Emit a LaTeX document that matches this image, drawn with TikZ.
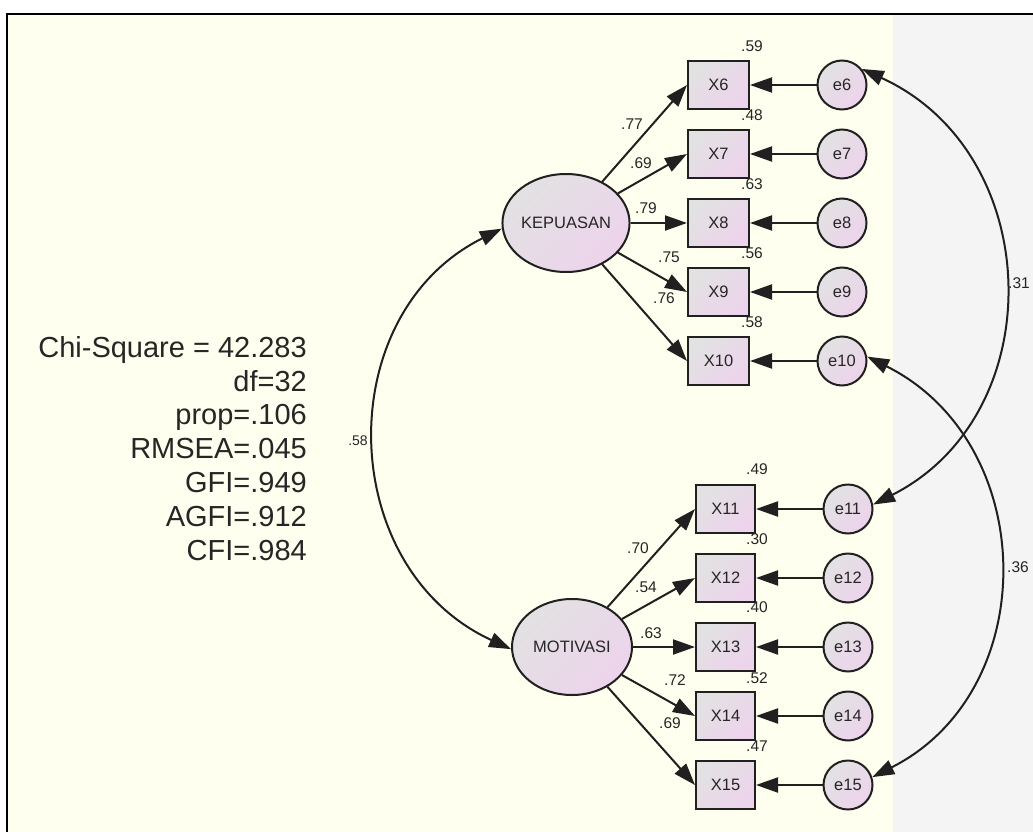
\documentclass[tikz,border=0pt]{standalone}
\usepackage{fontspec}
\setmainfont{Liberation Sans}
\usetikzlibrary{arrows.meta,shapes.geometric,calc}
\definecolor{bgyellow}{HTML}{FFFFF0}
\definecolor{bggrey}{HTML}{F4F4F4}
\definecolor{shadegrey}{HTML}{E2E2E2}
\definecolor{shadepink}{HTML}{EDD3EC}
\definecolor{edgecol}{HTML}{202020}
\newcommand{\pxfont}[1]{\fontsize{#1}{#1}\selectfont}
\begin{document}
\begin{tikzpicture}[x=1pt,y=-1pt,
  obsbox/.style={rectangle, draw=edgecol, line width=2pt, top color=shadegrey, bottom color=shadepink, shading angle=45, minimum width=60pt, minimum height=48pt, inner sep=0pt, font=\pxfont{16.5}, text=black!85},
  errc/.style={circle, draw=edgecol, line width=2pt, top color=shadegrey, bottom color=shadepink, shading angle=45, minimum size=49pt, inner sep=0pt, font=\pxfont{16.5}, text=black!85},
  latent/.style={ellipse, draw=edgecol, line width=2pt, top color=shadegrey, bottom color=shadepink, shading angle=45, minimum width=122pt, minimum height=98pt, inner sep=0pt, font=\pxfont{16.5}, text=black!85},
  lab/.style={font=\pxfont{15.5}, inner sep=0pt, text=black!85},
  regarrow/.style={draw=edgecol, line width=2pt, -{Triangle[length=22pt,width=15pt]}},
  cov/.style={draw=edgecol, line width=2pt, {Triangle[length=22pt,width=15pt]}-{Triangle[length=22pt,width=15pt]}},
]
\useasboundingbox (0,0) rectangle (1033,832);
\fill[white] (0,0) rectangle (1033,832);
\fill[bgyellow] (7,14) rectangle (893,832);
\fill[bggrey] (893,14) rectangle (1033,832);
\draw[line width=2pt] (7,832) -- (7,14) -- (1033,14);

% latent variables
\node[latent] (K) at (566,223) {KEPUASAN};
\node[latent, minimum width=120pt, minimum height=96pt] (M) at (572,647) {MOTIVASI};

% upper indicators
\foreach \i/\y in {6/85,7/154,8/223,9/292,10/361}{
  \node[obsbox, minimum width=61pt] (X\i) at (718.5,\y) {X\i};
  \node[errc] (e\i) at (842,\y) {e\i};
}
% lower indicators
\foreach \i/\y in {11/509,12/578,13/647,14/716,15/785}{
  \node[obsbox, minimum width=59pt] (X\i) at (725.5,\y) {X\i};
  \node[errc] (e\i) at (848,\y) {e\i};
}

% regression arrows
\foreach \i in {6,...,10}{
  \draw[regarrow] (K) -- (X\i.west);
  \draw[regarrow] (e\i) -- (X\i);
}
\foreach \i in {11,...,15}{
  \draw[regarrow] (M) -- (X\i.west);
  \draw[regarrow] (e\i) -- (X\i);
}

% covariances
\draw[cov] (K.185) .. controls (330,314) and (335,568) .. (M.182);
\draw[cov] (e6.39) .. controls (1046,153) and (1052,414) .. (e11.10);
\draw[cov] (e10.10) .. controls (1040,443) and (1043,691) .. (e15.18);

% loading labels
\node[lab] (l6) at (632,124) {.77};
\node[lab] (l7) at (641,163) {.69};
\node[lab] (l8) at (646,208) {.79};
\node[lab] (l9) at (669,257) {.75};
\node[lab] (l10) at (664,298) {.76};
\node[lab] (l11) at (638,548) {.70};
\node[lab] (l12) at (646,587) {.54};
\node[lab] (l13) at (651,633) {.63};
\node[lab] (l14) at (675,680) {.72};
\node[lab] (l15) at (670,723) {.69};

% squared multiple correlations
\node[lab] (r6) at (752,46) {.59};
\node[lab] (r7) at (752,115) {.48};
\node[lab] (r8) at (752,184) {.63};
\node[lab] (r9) at (752,253) {.56};
\node[lab] (r10) at (752,322) {.58};
\node[lab] (r11) at (757,469) {.49};
\node[lab] (r12) at (757,539) {.30};
\node[lab] (r13) at (757,607) {.40};
\node[lab] (r14) at (757,678) {.52};
\node[lab] (r15) at (757,746) {.47};

% covariance labels
\node[lab, font=\pxfont{14}] (c58) at (358,441) {.58};
\node[lab] (c31) at (1019,283) {.31};
\node[lab] (c36) at (1018,567) {.36};

% fit statistics
\node[anchor=north east, align=right, inner sep=0pt, text=black!85, font=\fontsize{29}{33.8}\selectfont] (stats) at (307,336)
  {Chi-Square = 42.283\\df=32\\prop=.106\\RMSEA=.045\\GFI=.949\\AGFI=.912\\CFI=.984};
\end{tikzpicture}
\end{document}
